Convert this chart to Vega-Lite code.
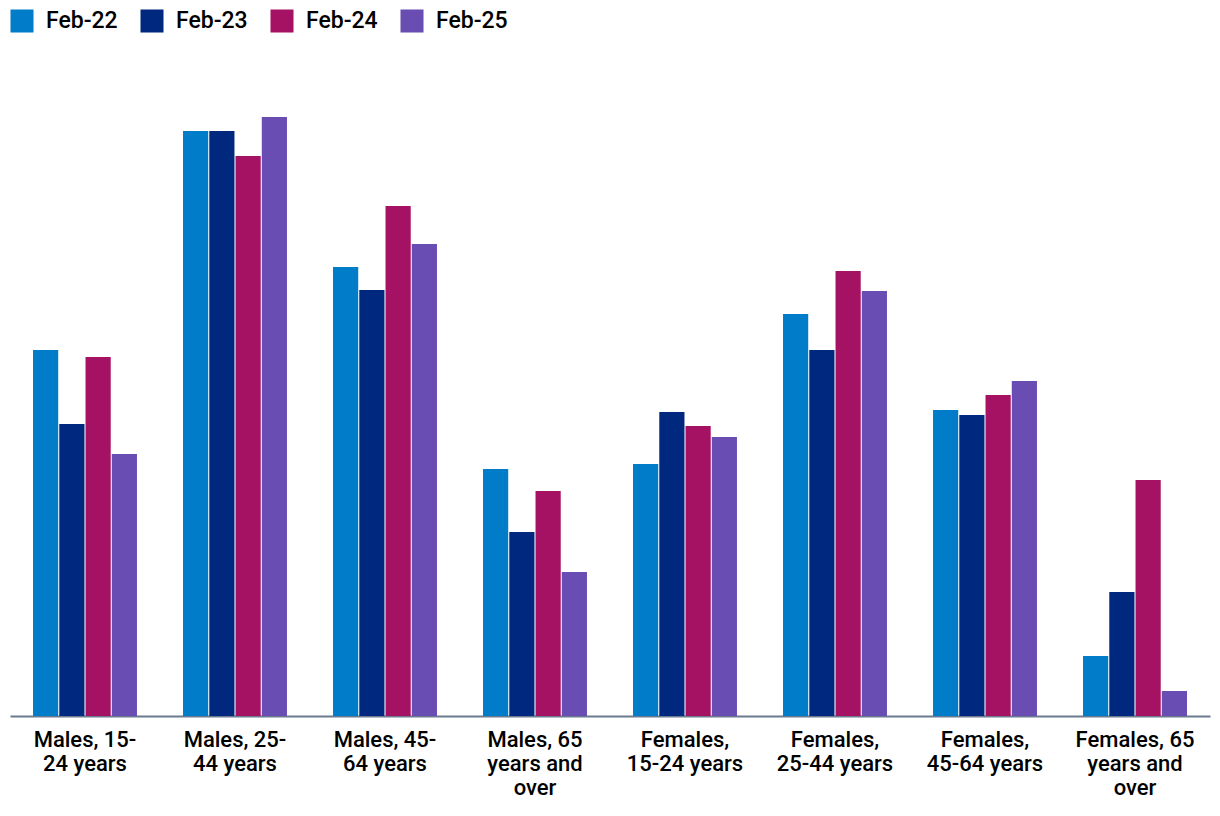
{
  "$schema": "https://vega.github.io/schema/vega-lite/v6.json",
  "autosize": {"type": "none"},
  "width": 1200,
  "height": 656,
  "padding": {"left": 10, "top": 60, "right": 10, "bottom": 100},
  "config": {
    "view": {"stroke": null},
    "font": "Roboto"
  },
  "data": {
    "values": [
      {"group": "Males, 15-|24 years", "period": "Feb-22", "value": 366},
      {"group": "Males, 15-|24 years", "period": "Feb-23", "value": 292},
      {"group": "Males, 15-|24 years", "period": "Feb-24", "value": 359},
      {"group": "Males, 15-|24 years", "period": "Feb-25", "value": 262},
      {"group": "Males, 25-|44 years", "period": "Feb-22", "value": 585},
      {"group": "Males, 25-|44 years", "period": "Feb-23", "value": 585},
      {"group": "Males, 25-|44 years", "period": "Feb-24", "value": 560},
      {"group": "Males, 25-|44 years", "period": "Feb-25", "value": 599},
      {"group": "Males, 45-|64 years", "period": "Feb-22", "value": 449},
      {"group": "Males, 45-|64 years", "period": "Feb-23", "value": 426},
      {"group": "Males, 45-|64 years", "period": "Feb-24", "value": 510},
      {"group": "Males, 45-|64 years", "period": "Feb-25", "value": 472},
      {"group": "Males, 65|years and|over", "period": "Feb-22", "value": 247},
      {"group": "Males, 65|years and|over", "period": "Feb-23", "value": 184},
      {"group": "Males, 65|years and|over", "period": "Feb-24", "value": 225},
      {"group": "Males, 65|years and|over", "period": "Feb-25", "value": 144},
      {"group": "Females,|15-24 years", "period": "Feb-22", "value": 252},
      {"group": "Females,|15-24 years", "period": "Feb-23", "value": 304},
      {"group": "Females,|15-24 years", "period": "Feb-24", "value": 290},
      {"group": "Females,|15-24 years", "period": "Feb-25", "value": 279},
      {"group": "Females,|25-44 years", "period": "Feb-22", "value": 402},
      {"group": "Females,|25-44 years", "period": "Feb-23", "value": 366},
      {"group": "Females,|25-44 years", "period": "Feb-24", "value": 445},
      {"group": "Females,|25-44 years", "period": "Feb-25", "value": 425},
      {"group": "Females,|45-64 years", "period": "Feb-22", "value": 306},
      {"group": "Females,|45-64 years", "period": "Feb-23", "value": 301},
      {"group": "Females,|45-64 years", "period": "Feb-24", "value": 321},
      {"group": "Females,|45-64 years", "period": "Feb-25", "value": 335},
      {"group": "Females, 65|years and|over", "period": "Feb-22", "value": 60},
      {"group": "Females, 65|years and|over", "period": "Feb-23", "value": 124},
      {"group": "Females, 65|years and|over", "period": "Feb-24", "value": 236},
      {"group": "Females, 65|years and|over", "period": "Feb-25", "value": 25}
    ]
  },
  "mark": {"type": "bar"},
  "encoding": {
    "x": {
      "field": "group",
      "type": "nominal",
      "sort": null,
      "scale": {"paddingInner": 0.307, "paddingOuter": 0.1535},
      "axis": {
        "title": null,
        "labelAngle": 0,
        "labelExpr": "split(datum.value, '|')",
        "labelFontSize": 22,
        "labelFontWeight": 500,
        "labelColor": "#000000",
        "labelLineHeight": 24,
        "labelPadding": 13,
        "labelLimit": 300,
        "ticks": false,
        "domainColor": "#6b7a90",
        "domainWidth": 2
      }
    },
    "xOffset": {
      "field": "period",
      "type": "nominal",
      "scale": {"paddingInner": 0.04}
    },
    "y": {
      "field": "value",
      "type": "quantitative",
      "scale": {"domain": [0, 656], "nice": false},
      "axis": null
    },
    "color": {
      "field": "period",
      "type": "nominal",
      "scale": {
        "domain": ["Feb-22", "Feb-23", "Feb-24", "Feb-25"],
        "range": ["#007cc8", "#00287f", "#a51163", "#6a4db3"]
      },
      "legend": {
        "title": null,
        "orient": "none",
        "legendX": 0,
        "legendY": -51,
        "direction": "horizontal",
        "columns": 4,
        "symbolType": "square",
        "symbolSize": 530,
        "symbolStrokeWidth": 0,
        "symbolOpacity": 1,
        "labelFontSize": 23,
        "labelFontWeight": 500,
        "labelColor": "#000000",
        "labelOffset": 12,
        "columnPadding": 22,
        "symbolOffset": 0
      }
    }
  }
}
